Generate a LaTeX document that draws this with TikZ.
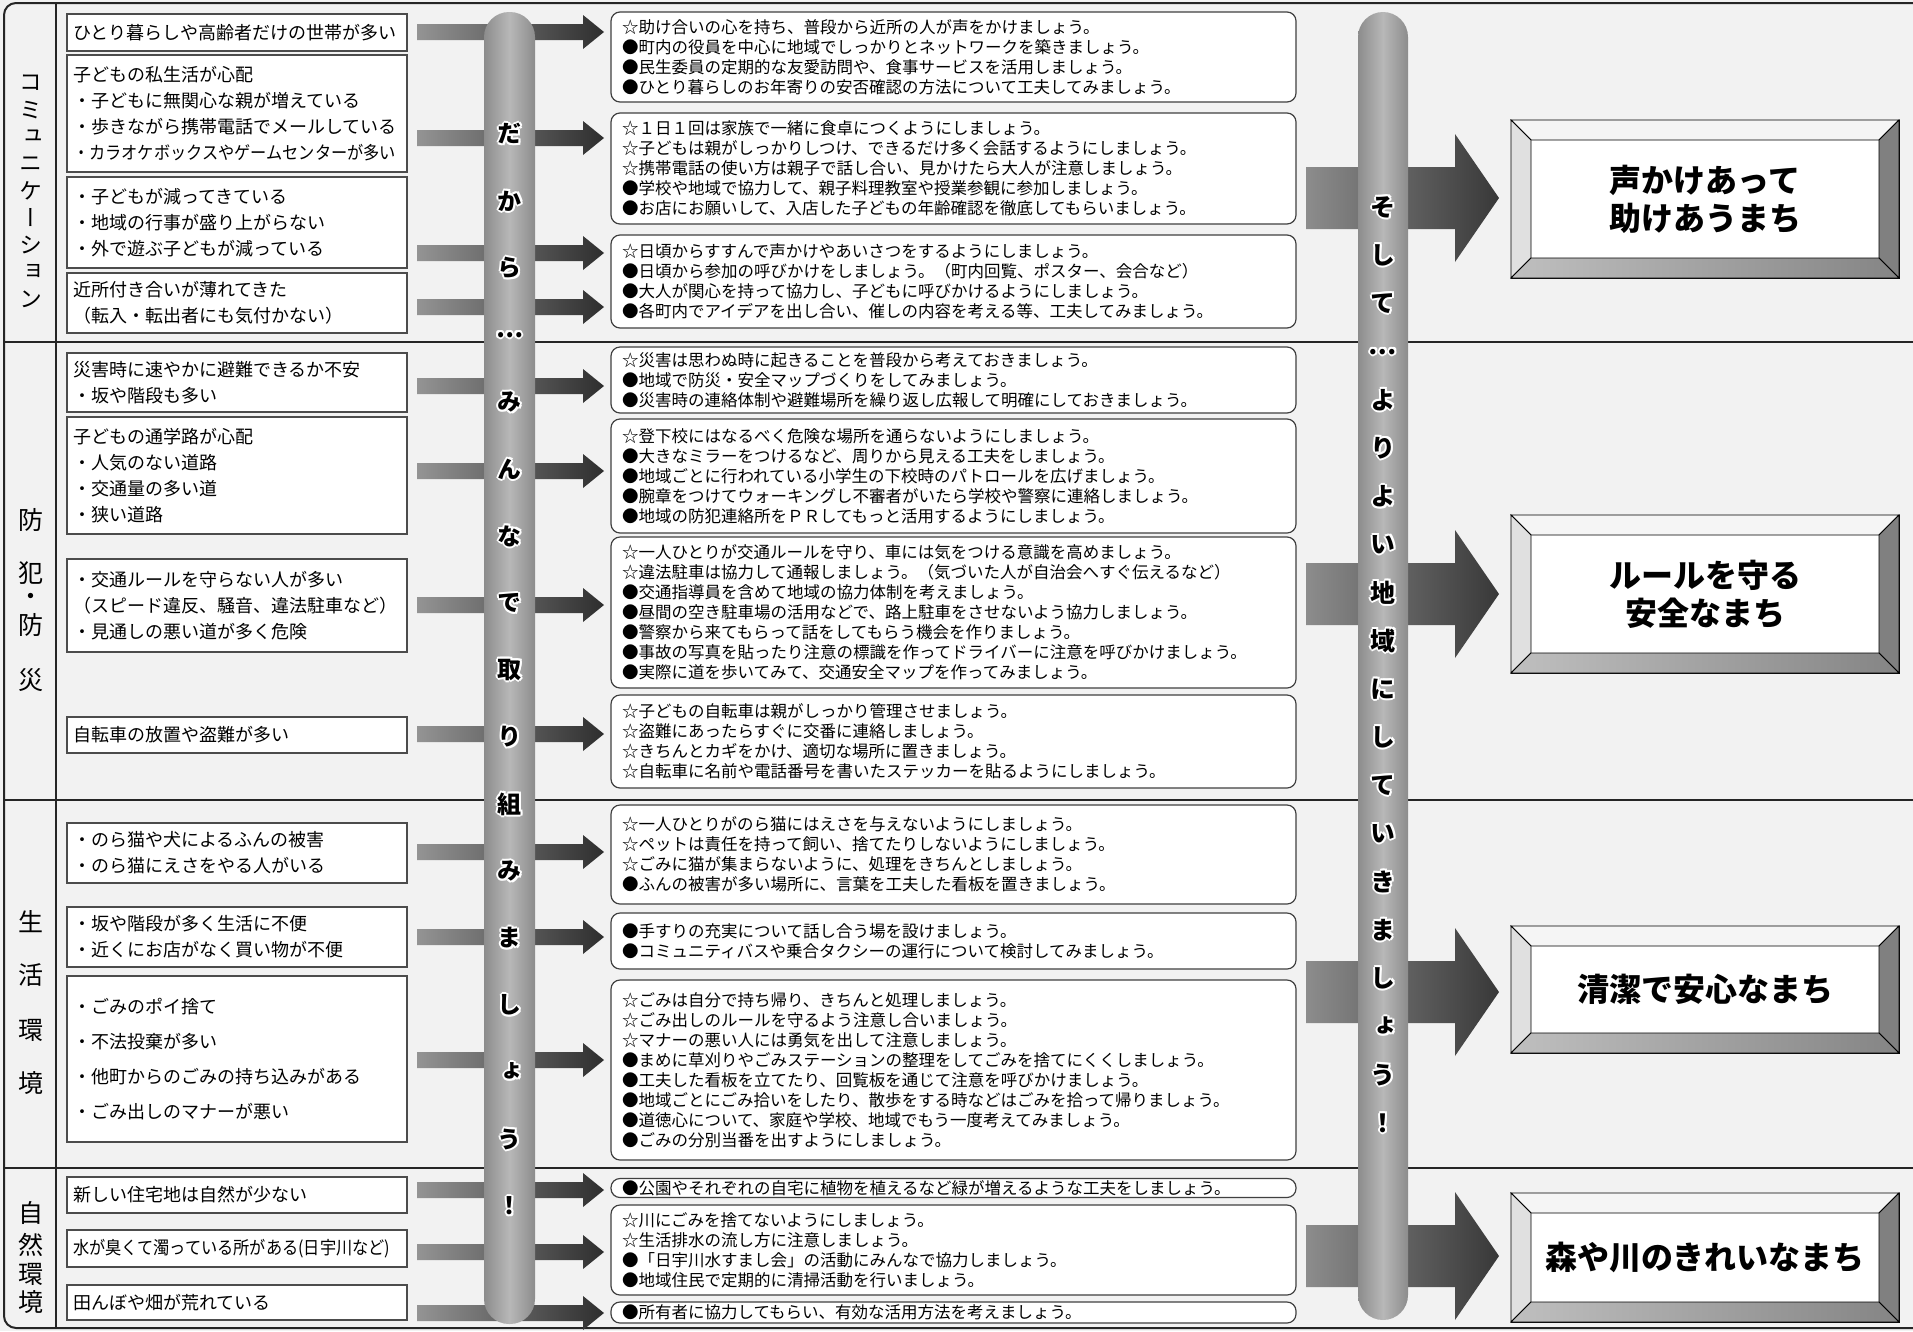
\documentclass[tikz,border=0pt]{standalone}
\usepackage{graphicx}
\usepackage{fontspec}
\setmainfont{Noto Sans CJK JP}
\newfontfamily\tatefont[RawFeature=+vert]{Noto Sans CJK JP}
\usetikzlibrary{calc,positioning}

% small arrow: from #1 to #2 at height #3
\newcommand{\flow}[3]{%
  \shade[left color=black!42, right color=black!82]
    let \p1=(#1), \p2=(#2) in
    (\x1+10pt,-#3pt+8pt) -- (\x2-28pt,-#3pt+8pt) -- (\x2-28pt,-#3pt+17pt)
    -- (\x2-7pt,-#3pt) -- (\x2-28pt,-#3pt-17pt) -- (\x2-28pt,-#3pt-8pt)
    -- (\x1+10pt,-#3pt-8pt) -- cycle;}

% big arrow: from #1 to #2 at height #3
\newcommand{\bigflow}[3]{%
  \shade[left color=black!45, right color=black!78]
    let \p1=(#1), \p2=(#2) in
    (\x1+10pt,-#3pt+31pt) -- (\x2-56pt,-#3pt+31pt) -- (\x2-56pt,-#3pt+64pt)
    -- (\x2-12pt,-#3pt) -- (\x2-56pt,-#3pt-64pt) -- (\x2-56pt,-#3pt-31pt)
    -- (\x1+10pt,-#3pt-31pt) -- cycle;}

% bevel frame round a goal node
\newcommand{\bevel}[1]{%
  \coordinate (#1-a) at ($(#1.north west)+(20,20)$);
  \coordinate (#1-b) at ($(#1.north east)+(-20,20)$);
  \coordinate (#1-c) at ($(#1.south east)+(-20,-20)$);
  \coordinate (#1-d) at ($(#1.south west)+(20,-20)$);
  \filldraw[bevelline, fill=black!4] (#1.north west) -- (#1.north east) -- (#1-b) -- (#1-a) -- cycle;
  \filldraw[bevelline, fill=black!12] (#1.north west) -- (#1-a) -- (#1-d) -- (#1.south west) -- cycle;
  \filldraw[bevelline, fill=black!50] (#1.north east) -- (#1.south east) -- (#1-c) -- (#1-b) -- cycle;
  \shadedraw[bevelline, left color=black!25, right color=black!48] (#1.south west) -- (#1-d) -- (#1-c) -- (#1.south east) -- cycle;}

\begin{document}
\begin{tikzpicture}[x=1pt, y=-1pt,
    issue/.style={draw=black!70, line width=1.2pt, fill=white, minimum width=340, text width=328,
      inner xsep=6, inner ysep=0, outer sep=0, align=left, font=\fontsize{18}{26}\selectfont},
    act/.style={draw=black!75, line width=1.2pt, fill=white, rounded corners=9, minimum width=685,
      text width=663, inner xsep=11, inner ysep=0, outer sep=0, align=left, font=\fontsize{16.5}{20}\selectfont},
    goal/.style={draw=black, line width=1pt, fill=white, minimum width=388, inner sep=0, outer sep=0,
      align=center, font=\bfseries\fontsize{32}{38}\selectfont},
    cat/.style={inner sep=0, font=\tatefont\fontsize{25}{25}\selectfont},
    bartext/.style={inner sep=0, font=\tatefont\bfseries\fontsize{24}{24}\selectfont},
    bar/.style={rounded corners=25, left color=black!45, right color=black!45, middle color=black!28},
    frame/.style={line width=2pt, black!85},
    divider/.style={line width=1.5pt, black!85},
    bevelline/.style={draw=black, line width=0.8pt}
  ]

  \useasboundingbox (0,0) rectangle (1913,1331);
  \fill[black!5] (0,0) rectangle (1913,1331);

  % Frame
  \draw[frame, rounded corners=12] (1913,3) -- (4,3) -- (4,1328) -- (1913,1328);
  \draw[frame] (56,3) -- (56,1328);
  \foreach \yy in {342,800,1168}
    \draw[divider] (4,\yy) -- (1913,\yy);

  % Categories
  \foreach \ch [count=\k from 0] in {コ,ミ,ュ,ニ,ケ,ー,シ,ョ,ン}
    \node[cat, font=\tatefont\fontsize{23}{23}\selectfont] (com\k) at (31,83+27*\k) {\ch};
  \node[cat] (saf1) at (31,520) {防};
  \node[cat] (saf2) at (31,573) {犯};
  \node[cat] (saf3) at (31,599) {・};
  \node[cat] (saf4) at (31,625) {防};
  \node[cat] (saf5) at (31,680) {災};
  \node[cat] (life1) at (31,922) {生};
  \node[cat] (life2) at (31,975) {活};
  \node[cat] (life3) at (31,1030) {環};
  \node[cat] (life4) at (31,1083) {境};
  \node[cat] (nat1) at (31,1213) {自};
  \node[cat] (nat2) at (31,1245) {然};
  \node[cat] (nat3) at (31,1274) {環};
  \node[cat] (nat4) at (31,1302) {境};

  % Issues
  \node[issue, minimum height=37] (iss1) at (237,32.5) {ひとり暮らしや高齢者だけの世帯が多い};
  \node[issue, minimum height=117] (iss2) at (237,113.5) {子どもの私生活が心配\\・子どもに無関心な親が増えている\\・歩きながら携帯電話でメールしている\\\scalebox{0.9}[1]{・カラオケボックスやゲームセンターが多い}};
  \node[issue, minimum height=91] (iss3) at (237,222.5) {・子どもが減ってきている\\・地域の行事が盛り上がらない\\・外で遊ぶ子どもが減っている};
  \node[issue, minimum height=60] (iss4) at (237,303) {近所付き合いが薄れてきた\\（転入・転出者にも気付かない）};
  \node[issue, minimum height=59] (iss5) at (237,382.5) {災害時に速やかに避難できるか不安\\・坂や階段も多い};
  \node[issue, minimum height=117] (iss6) at (237,475.5) {子どもの通学路が心配\\・人気のない道路\\・交通量の多い道\\・狭い道路};
  \node[issue, minimum height=93] (iss7) at (237,605.5) {・交通ルールを守らない人が多い\\（スピード違反、騒音、違法駐車など）\\・見通しの悪い道が多く危険};
  \node[issue, minimum height=36] (iss8) at (237,735) {自転車の放置や盗難が多い};
  \node[issue, minimum height=60] (iss9) at (237,853) {・のら猫や犬によるふんの被害\\・のら猫にえさをやる人がいる};
  \node[issue, minimum height=60] (iss10) at (237,937) {・坂や階段が多く生活に不便\\・近くにお店がなく買い物が不便};
  \node[issue, minimum height=166, font=\fontsize{18}{35}\selectfont] (iss11) at (237,1059) {・ごみのポイ捨て\\・不法投棄が多い\\・他町からのごみの持ち込みがある\\・ごみ出しのマナーが悪い};
  \node[issue, minimum height=36] (iss12) at (237,1195) {新しい住宅地は自然が少ない};
  \node[issue, minimum height=37] (iss13) at (237,1248.5) {\scalebox{0.9}[1]{水が臭くて濁っている所がある(日宇川など)}};
  \node[issue, minimum height=35] (iss14) at (237,1302.5) {田んぼや畑が荒れている};

  % Actions
  \node[act, minimum height=90] (act1) at (953.5,57) {☆助け合いの心を持ち、普段から近所の人が声をかけましょう。\\●町内の役員を中心に地域でしっかりとネットワークを築きましょう。\\●民生委員の定期的な友愛訪問や、食事サービスを活用しましょう。\\●ひとり暮らしのお年寄りの安否確認の方法について工夫してみましょう。};
  \node[act, minimum height=111] (act2) at (953.5,168.5) {☆１日１回は家族で一緒に食卓につくようにしましょう。\\☆子どもは親がしっかりしつけ、できるだけ多く会話するようにしましょう。\\☆携帯電話の使い方は親子で話し合い、見かけたら大人が注意しましょう。\\●学校や地域で協力して、親子料理教室や授業参観に参加しましょう。\\●お店にお願いして、入店した子どもの年齢確認を徹底してもらいましょう。};
  \node[act, minimum height=93] (act3) at (953.5,281.5) {☆日頃からすすんで声かけやあいさつをするようにしましょう。\\●日頃から参加の呼びかけをしましょう。（町内回覧、ポスター、会合など）\\●大人が関心を持って協力し、子どもに呼びかけるようにしましょう。\\●各町内でアイデアを出し合い、催しの内容を考える等、工夫してみましょう。};
  \node[act, minimum height=66] (act4) at (953.5,380) {☆災害は思わぬ時に起きることを普段から考えておきましょう。\\●地域で防災・安全マップづくりをしてみましょう。\\●災害時の連絡体制や避難場所を繰り返し広報して明確にしておきましょう。};
  \node[act, minimum height=114] (act5) at (953.5,476) {☆登下校にはなるべく危険な場所を通らないようにしましょう。\\●大きなミラーをつけるなど、周りから見える工夫をしましょう。\\●地域ごとに行われている小学生の下校時のパトロールを広げましょう。\\●腕章をつけてウォーキングし不審者がいたら学校や警察に連絡しましょう。\\●地域の防犯連絡所をＰＲしてもっと活用するようにしましょう。};
  \node[act, minimum height=151] (act6) at (953.5,612.5) {☆一人ひとりが交通ルールを守り、車には気をつける意識を高めましょう。\\☆違法駐車は協力して通報しましょう。（気づいた人が自治会へすぐ伝えるなど）\\●交通指導員を含めて地域の協力体制を考えましょう。\\●昼間の空き駐車場の活用などで、路上駐車をさせないよう協力しましょう。\\●警察から来てもらって話をしてもらう機会を作りましょう。\\●事故の写真を貼ったり注意の標識を作ってドライバーに注意を呼びかけましょう。\\●実際に道を歩いてみて、交通安全マップを作ってみましょう。};
  \node[act, minimum height=93] (act7) at (953.5,741.5) {☆子どもの自転車は親がしっかり管理させましょう。\\☆盗難にあったらすぐに交番に連絡しましょう。\\☆きちんとカギをかけ、適切な場所に置きましょう。\\☆自転車に名前や電話番号を書いたステッカーを貼るようにしましょう。};
  \node[act, minimum height=99] (act8) at (953.5,854.5) {☆一人ひとりがのら猫にはえさを与えないようにしましょう。\\☆ペットは責任を持って飼い、捨てたりしないようにしましょう。\\☆ごみに猫が集まらないように、処理をきちんとしましょう。\\●ふんの被害が多い場所に、言葉を工夫した看板を置きましょう。};
  \node[act, minimum height=56] (act9) at (953.5,941) {●手すりの充実について話し合う場を設けましょう。\\●コミュニティバスや乗合タクシーの運行について検討してみましょう。};
  \node[act, minimum height=180] (act10) at (953.5,1070) {☆ごみは自分で持ち帰り、きちんと処理しましょう。\\☆ごみ出しのルールを守るよう注意し合いましょう。\\☆マナーの悪い人には勇気を出して注意しましょう。\\●まめに草刈りやごみステーションの整理をしてごみを捨てにくくしましょう。\\●工夫した看板を立てたり、回覧板を通じて注意を呼びかけましょう。\\●地域ごとにごみ拾いをしたり、散歩をする時などはごみを拾って帰りましょう。\\●道徳心について、家庭や学校、地域でもう一度考えてみましょう。\\●ごみの分別当番を出すようにしましょう。};
  \node[act, minimum height=19] (act11) at (953.5,1188) {●公園やそれぞれの自宅に植物を植えるなど緑が増えるような工夫をしましょう。};
  \node[act, minimum height=90] (act12) at (953.5,1250) {☆川にごみを捨てないようにしましょう。\\☆生活排水の流し方に注意しましょう。\\●「日宇川水すまし会」の活動にみんなで協力しましょう。\\●地域住民で定期的に清掃活動を行いましょう。};
  \node[act, minimum height=21] (act13) at (953.5,1312.5) {●所有者に協力してもらい、有効な活用方法を考えましょう。};

  % Arrows into the actions
  \flow{iss1.east}{act1.west}{32}
  \flow{iss2.east}{act2.west}{138}
  \flow{iss3.east}{act3.west}{253}
  \flow{iss4.east}{act3.west}{307}
  \flow{iss5.east}{act4.west}{386}
  \flow{iss6.east}{act5.west}{471}
  \flow{iss7.east}{act6.west}{605}
  \flow{iss8.east}{act7.west}{734}
  \flow{iss9.east}{act8.west}{852}
  \flow{iss10.east}{act9.west}{937}
  \flow{iss11.east}{act10.west}{1060}
  \flow{iss12.east}{act11.west}{1190}
  \flow{iss13.east}{act12.west}{1252}
  \flow{iss14.east}{act13.west}{1313}

  % Left bar
  \shade[bar] (484,12) rectangle (535,1324);
  \foreach \ch [count=\k from 0] in {だ,か,ら,…,み,ん,な,で,取,り,組,み,ま,し,ょ,う,！}{
    \foreach \dx/\dy [count=\j] in {2/0,-2/0,0/2,0/-2,1.5/1.5,1.5/-1.5,-1.5/1.5,-1.5/-1.5}
      \node[bartext, text=white] (lw\k-\j) at (509.5+\dx,134+67*\k+\dy) {\ch};
    \node[bartext] (l\k) at (509.5,134+67*\k) {\ch};
  }

  % Goals
  \node[goal, minimum height=158] (goal1) at (1705,199) {声かけあって\\助けあうまち};
  \node[goal, minimum height=158] (goal2) at (1705,594) {ルールを守る\\安全なまち};
  \node[goal, minimum height=127] (goal3) at (1705,989.5) {清潔で安心なまち};
  \node[goal, minimum height=129] (goal4) at (1705,1257.5) {森や川のきれいなまち};
  \bevel{goal1}
  \bevel{goal2}
  \bevel{goal3}
  \bevel{goal4}

  % Arrows into the goals
  \bigflow{act2.east}{goal1.west}{198}
  \bigflow{act6.east}{goal2.west}{594}
  \bigflow{act10.east}{goal3.west}{992}
  \bigflow{act12.east}{goal4.west}{1256}

  % Right bar
  \shade[bar] (1358,12) rectangle (1408,1320);
  \foreach \ch [count=\k from 0] in {そ,し,て,…,よ,り,よ,い,地,域,に,し,て,い,き,ま,し,ょ,う,！}{
    \foreach \dx/\dy [count=\j] in {2/0,-2/0,0/2,0/-2,1.5/1.5,1.5/-1.5,-1.5/1.5,-1.5/-1.5}
      \node[bartext, text=white, font=\tatefont\bfseries\fontsize{25}{25}\selectfont] (rw\k-\j) at (1383+\dx,207+48.2*\k+\dy) {\ch};
    \node[bartext, font=\tatefont\bfseries\fontsize{25}{25}\selectfont] (r\k) at (1383,207+48.2*\k) {\ch};
  }

\end{tikzpicture}
\end{document}
